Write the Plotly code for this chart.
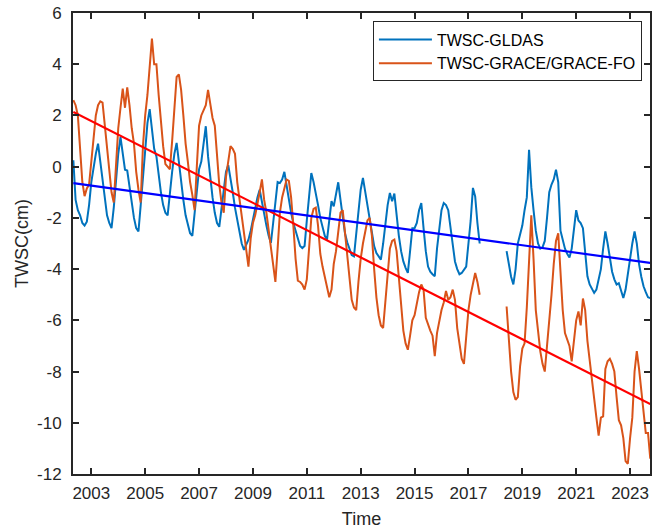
import plotly.graph_objects as go

# ---------------- data (decimal year = year + month/12) ----------------
first_year, first_month = 2002, 4          # April 2002
n_months = 258                              # through September 2023

# GLDAS TWSC (cm), Apr 2002 .. May 2017
gldas_part1 = [
    0.25, -1.3, -1.7, -1.9, -2.2, -2.3, -2.15, -1.5, -0.6,                 # 2002 Apr-Dec
    0.0, 0.5, 0.9, 0.2, -0.6, -1.4, -1.9, -2.2, -2.4, -1.6, -0.4, 0.5,    # 2003
    1.15, 0.6, -0.12, -0.15, -0.8, -1.4, -2.0, -2.4, -2.53, -1.5, -0.3, 0.8,  # 2004
    1.7, 2.25, 1.5, 0.7, 0.4, -0.4, -1.0, -1.5, -1.8, -1.9, -1.0, -0.2,   # 2005
    0.5, 0.93, 0.2, -0.6, -1.3, -1.9, -2.3, -2.6, -2.7, -1.8, -0.8, -0.1,  # 2006
    0.2, 0.9, 1.58, 0.4, -0.5, -1.2, -1.8, -2.2, -2.35, -1.6, -0.8, -0.2,  # 2007
    0.06, -0.4, -1.0, -1.6, -2.1, -2.6, -3.0, -3.25, -3.05, -2.85, -2.5, -2.07,  # 2008
    -1.6, -1.2, -0.9, -1.4, -1.9, -2.3, -2.7, -2.98, -2.2, -1.3, -0.6, -0.64,   # 2009
    -0.5, -0.2, -0.77, -1.3, -1.8, -2.2, -2.5, -2.9, -3.1, -3.18, -3.1, -2.1,   # 2010
    -1.0, -0.25, -0.6, -1.0, -1.5, -2.0, -2.4, -2.7, -2.85, -2.1, -1.35, -1.55, # 2011
    -1.0, -0.61, -1.3, -2.0, -2.6, -2.95, -3.2, -3.45, -3.5, -2.6, -1.6, -0.9,  # 2012
    -0.44, -1.0, -1.6, -2.0, -2.6, -3.1, -3.37, -3.5, -3.63, -3.0, -2.2, -1.5,  # 2013
    -1.03, -1.35, -1.05, -2.0, -2.7, -3.3, -3.7, -3.95, -4.15, -3.3, -2.4, -2.4, # 2014
    -2.2, -1.7, -1.42, -2.4, -3.3, -3.9, -4.1, -4.2, -4.28, -3.2, -2.3, -1.7,   # 2015
    -1.42, -1.5, -1.7, -2.4, -3.2, -3.7, -4.0, -4.2, -4.15, -4.0, -3.9, -3.0,   # 2016
    -2.1, -0.83, -1.16, -2.2, -3.0,                                          # 2017 Jan-May
]
# GLDAS TWSC (cm), May 2018 .. Sep 2023
gldas_part2 = [
    -3.3, -3.9, -4.3, -4.6, -4.0, -3.0, -2.6, -2.3,                         # 2018 May-Dec
    -1.7, -1.2, 0.66, -0.8, -1.7, -2.5, -3.0, -3.2, -3.15, -2.9, -2.0, -1.0,  # 2019
    -0.7, -0.5, -0.12, -0.6, -2.5, -2.9, -3.2, -3.4, -3.55, -3.2, -2.3, -1.7, # 2020
    -2.1, -2.2, -2.4, -3.5, -4.28, -4.6, -4.8, -4.93, -4.8, -4.4, -4.0, -3.2, # 2021
    -2.53, -3.0, -3.6, -4.1, -4.4, -4.6, -4.55, -4.9, -5.13, -4.8, -4.28, -3.6, # 2022
    -3.0, -2.53, -3.0, -3.8, -4.3, -4.67, -4.9, -5.1, -5.13,                 # 2023 Jan-Sep
]

# GRACE/GRACE-FO TWSC (cm), Apr 2002 .. May 2017
grace_part1 = [
    2.6, 2.4, 2.0, 0.8, -0.6, -1.15, -0.85, -0.7, 0.2,                      # 2002 Apr-Dec
    1.2, 2.0, 2.4, 2.55, 2.5, 1.6, 0.5, -0.4, -1.0, -1.4, 0.0, 1.5,          # 2003
    2.3, 3.05, 2.3, 3.1, 2.4, 1.5, 0.9, -0.2, -0.9, -1.4, 0.8, 2.0,          # 2004
    2.8, 4.0, 5.0, 4.0, 4.0, 2.8, 1.6, 0.8, 0.1, 0.0, -0.1, 1.0,             # 2005
    2.2, 3.5, 3.6, 3.0, 2.0, 0.9, 0.2, -0.6, -1.1, -1.7, 0.0, 1.6,           # 2006
    2.0, 2.2, 2.4, 3.0, 2.5, 1.9, 1.6, 0.3, -0.7, -1.4, -1.8, -0.4,          # 2007
    0.2, 0.8, 0.7, 0.5, -0.6, -1.3, -2.0, -2.6, -3.3, -3.9, -2.8, -2.2,      # 2008
    -1.9, -1.5, -1.0, -0.5, -1.3, -1.8, -2.5, -3.3, -4.0, -4.5, -3.2, -1.8,  # 2009
    -1.2, -0.8, -0.5, -0.55, -1.2, -2.3, -3.6, -4.45, -4.5, -4.6, -4.8, -4.4,  # 2010
    -3.0, -2.0, -1.65, -1.6, -2.3, -3.4, -3.9, -4.3, -4.8, -5.1, -4.8, -3.8, # 2011
    -3.3, -2.6, -1.8, -1.7, -2.6, -3.7, -4.6, -5.2, -5.5, -5.6, -4.5, -3.6,  # 2012
    -3.0, -2.5, -2.1, -2.0, -2.7, -4.0, -5.1, -5.8, -6.2, -6.3, -5.2, -4.0,  # 2013
    -3.2, -2.9, -2.85, -3.3, -4.4, -5.6, -6.4, -6.9, -7.15, -6.6, -6.0, -5.8, # 2014
    -5.3, -4.9, -4.6, -4.8, -5.9, -6.2, -6.4, -6.6, -7.4, -6.5, -6.0, -5.6,  # 2015
    -5.3, -4.85, -5.2, -5.1, -4.8, -5.2, -6.3, -7.0, -7.5, -7.7, -6.7, -5.6, # 2016
    -5.0, -4.5, -4.15, -4.5, -5.0,                                          # 2017 Jan-May
]
# GRACE-FO TWSC (cm), May 2018 .. Sep 2023
grace_part2 = [
    -5.46, -6.8, -8.0, -8.8, -9.1, -9.0, -7.8, -7.1,                         # 2018 May-Dec
    -6.9, -5.5, -3.5, -1.9, -3.6, -5.6, -6.4, -7.2, -7.7, -8.0, -7.0, -6.1,  # 2019
    -5.0, -3.8, -2.9, -2.6, -4.2, -5.6, -6.5, -6.8, -7.0, -7.6, -6.8, -6.0,  # 2020
    -5.65, -6.2, -5.15, -5.6, -6.8, -7.6, -8.4, -9.0, -9.8, -10.5, -9.8, -9.75, # 2021
    -7.9, -7.6, -7.5, -7.7, -8.0, -9.0, -9.9, -10.1, -10.6, -11.5, -11.6, -10.6, # 2022
    -9.8, -8.0, -7.2, -7.9, -8.8, -9.6, -10.4, -10.4, -11.4,                 # 2023 Jan-Sep
]
gap_months = 11   # Jun 2017 .. Apr 2018, no data

# linear trends (value at start and end of the record)
trend_years = [2002.333, 2023.75]
gldas_trend = [-0.64, -3.76]
grace_trend = [2.14, -9.27]

x_tick_vals = [2003, 2005, 2007, 2009, 2011, 2013, 2015, 2017, 2019, 2021, 2023]
x_tick_text = ["2003", "2005", "2007", "2009", "2011", "2013", "2015", "2017", "2019", "2021", "2023"]
y_tick_vals = [-12, -10, -8, -6, -4, -2, 0, 2, 4, 6]
y_tick_text = ["-12", "-10", "-8", "-6", "-4", "-2", "0", "2", "4", "6"]

# ---------------- assemble ----------------
times = []
y, m = first_year, first_month
for _ in range(n_months):
    times.append(y + m / 12.0)
    m += 1
    if m > 12:
        m = 1
        y += 1

gldas = gldas_part1 + [None] * gap_months + gldas_part2
grace = grace_part1 + [None] * gap_months + grace_part2

FONT = "Liberation Sans, Arial, Helvetica, sans-serif"
AX = "#262626"

fig = go.Figure()
fig.add_trace(go.Scatter(x=times, y=gldas, mode="lines", name="TWSC-GLDAS",
                         line=dict(color="#0072BD", width=2), connectgaps=False))
fig.add_trace(go.Scatter(x=times, y=grace, mode="lines", name="TWSC-GRACE/GRACE-FO",
                         line=dict(color="#D95319", width=2), connectgaps=False))
fig.add_trace(go.Scatter(x=trend_years, y=grace_trend, mode="lines", showlegend=False,
                         line=dict(color="#FF0000", width=2.2)))
fig.add_trace(go.Scatter(x=trend_years, y=gldas_trend, mode="lines", showlegend=False,
                         line=dict(color="#0000FF", width=2.2)))

fig.update_layout(
    width=653, height=529,
    margin=dict(l=73, r=1, t=13, b=55),
    paper_bgcolor="white", plot_bgcolor="white",
    font=dict(family=FONT, size=17, color=AX),
    showlegend=True,
    legend=dict(x=0.986, y=0.9816, xanchor="right", yanchor="top",
                bgcolor="white", bordercolor=AX, borderwidth=1,
                font=dict(size=16, color="black", family=FONT),
                itemwidth=53, tracegroupgap=0),
)
fig.update_xaxes(
    range=[2002.32, 2023.74], tickvals=x_tick_vals, ticktext=x_tick_text,
    ticks="inside", ticklen=6, tickwidth=1.5, tickcolor=AX,
    showline=True, linecolor=AX, linewidth=2, mirror="ticks",
    showgrid=False, zeroline=False,
    title=dict(text="Time", font=dict(size=18, color=AX), standoff=10),
    ticklabelstandoff=3,
)
fig.update_yaxes(
    range=[-12, 6], tickvals=y_tick_vals, ticktext=y_tick_text,
    ticks="inside", ticklen=6, tickwidth=1.5, tickcolor=AX,
    showline=True, linecolor=AX, linewidth=2, mirror="ticks",
    showgrid=False, zeroline=False,
    title=dict(text="TWSC(cm)", font=dict(size=18, color=AX), standoff=4),
    ticklabelstandoff=6,
)

# remove the default page margin so the 653x529 figure fills the window exactly
fig.write_html("out.html",
               config={"displayModeBar": False},
               post_script="document.body.style.margin='0';document.body.style.overflow='hidden';")
